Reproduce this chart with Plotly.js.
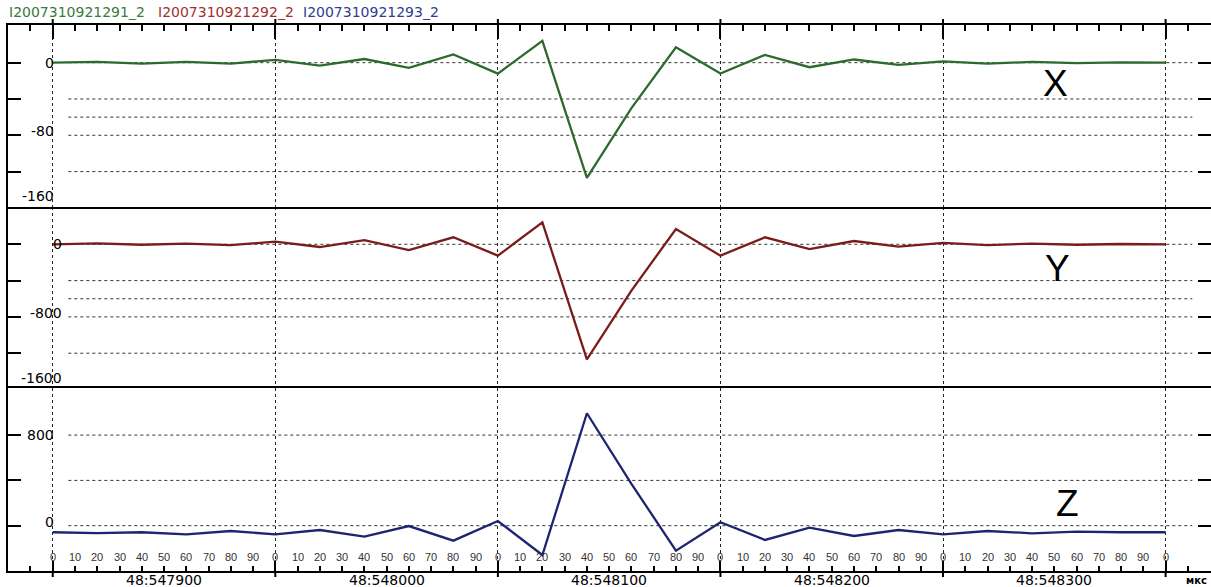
<!DOCTYPE html>
<html><head><meta charset="utf-8">
<script src="https://cdn.plot.ly/plotly-3.0.1.min.js"></script>
<style>html,body{margin:0;padding:0;background:#fff}#chart{width:1211px;height:587px}</style>
</head><body><div id="chart"></div>
<script>
// ---- data ----
const seriesNames = ['I2007310921291_2', 'I2007310921292_2', 'I2007310921293_2'];
const panelLabels = ['X', 'Y', 'Z'];
const timeUs = [547900, 547920, 547940, 547960, 547980, 548000, 548020, 548040, 548060, 548080,
                548100, 548120, 548140, 548160, 548180, 548200, 548220, 548240, 548260, 548280,
                548300, 548320, 548340, 548360, 548380, 548400];
const valuesX = [0, 0.8, -1, 0.8, -1, 3, -3.3, 4, -5.8, 9,
                 -12, 24, -127, -50, 17, -12, 8.5, -5, 3.5, -2.5,
                 1.5, -1, 0.8, -0.5, 0.3, 0];
const valuesY = [0, 10, -5, 8, -10, 30, -30, 45, -63, 77,
                 -125, 242, -1267, -510, 168, -125, 77, -52, 36, -25,
                 15, -10, 8, -5, 3, 0];
const valuesZ = [-58, -65, -58, -76, -47, -76, -38, -97, -3, -132,
                 41, -259, 993, 370, -221, 30, -126, -18, -91, -38,
                 -76, -47, -67, -53, -58, -58];
const majorTicks = [547900, 548000, 548100, 548200, 548300, 548400];
const majorTickLabels = ['48:547900', '48:548000', '48:548100', '48:548200', '48:548300'];
const minorTickLabels = ['0', '10', '20', '30', '40', '50', '60', '70', '80', '90'];
const unitLabel = 'мкс';
const xPanelTicks = [0, -40, -80, -120, -160];
const xPanelTickLabels = ['0', '-80', '-160'];
const xPanelGrid = [0, -40, -60, -80, -120];
const yPanelTicks = [0, -400, -800, -1200, -1600];
const yPanelTickLabels = ['0', '-800', '-1600'];
const yPanelGrid = [0, -400, -600, -800, -1200];
const zPanelTicks = [800, 400, 0];
const zPanelTickLabels = ['800', '0'];
const zPanelGrid = [800, 400, 0];

// ---- styling ----
const lineColors = ['#2d6a2d', '#7b1c1c', '#1e2470'];
const legendColors = ['#3a7a3a', '#a33030', '#2e3d8f'];
const FONT = 'DejaVu Sans, Liberation Sans, Arial, sans-serif';
const W = 1211, H = 587, ML = 8, MR = 0, MT = 25, MB = 16;
const PW = W - ML - MR, PH = H - MT - MB;
const xRange = [547879.9, 548420.4];
const yRanges = {y: [-159, 41.5], y2: [-1583, 411], y3: [-400, 1216]};
const gridX0 = 547907, gridX1 = 548412;
const px2paperX = p => (p - ML) / PW;
const px2paperY = p => (H - MB - p) / PH;

// minor ticks every 10 us across the visible range
const minorTicks = [];
for (let t = 547890; t <= 548410; t += 10) minorTicks.push(t);

const traces = [
  {x: timeUs, y: valuesX, xaxis: 'x2', yaxis: 'y', name: seriesNames[0]},
  {x: timeUs, y: valuesY, xaxis: 'x', yaxis: 'y2', name: seriesNames[1]},
  {x: timeUs, y: valuesZ, xaxis: 'x', yaxis: 'y3', name: seriesNames[2]}
].map((t, i) => Object.assign(t, {type: 'scatter', mode: 'lines',
  line: {color: lineColors[i], width: 2.3}, hoverinfo: 'skip'}));

const shapes = [];
const addGrid = (vals, xref, yref) => vals.forEach(v => shapes.push({
  type: 'line', xref: xref, yref: yref, x0: gridX0, x1: gridX1, y0: v, y1: v,
  line: {color: '#333', width: 1, dash: 'dot'}, layer: 'below'}));
addGrid(xPanelGrid, 'x2', 'y');
addGrid(yPanelGrid, 'x', 'y2');
addGrid(zPanelGrid, 'x', 'y3');
// outward parts of the major ticks (top and bottom axes)
majorTicks.forEach(t => {
  shapes.push({type: 'line', xref: 'x2', yref: 'paper', x0: t, x1: t, y0: 1, y1: 1 + 6 / PH,
    line: {color: '#000', width: 2}});
  shapes.push({type: 'line', xref: 'x', yref: 'paper', x0: t, x1: t, y0: 0, y1: -6 / PH,
    line: {color: '#000', width: 2}});
});

const annotations = [];
// legend texts
const legendPx = [8, 157, 302];
seriesNames.forEach((n, i) => annotations.push({
  text: n, xref: 'paper', yref: 'paper', x: px2paperX(legendPx[i]), y: px2paperY(12),
  xanchor: 'left', yanchor: 'middle', showarrow: false, borderpad: 0,
  font: {family: FONT, size: 14, color: legendColors[i]}}));
// y tick labels (values clamped into the visible range so they are not hidden)
const addYLabels = (labels, yref, xshift, shifts) => labels.forEach((l, i) => {
  const v = parseFloat(l), lo = yRanges[yref][0];
  annotations.push({
    text: l, xref: 'x', yref: yref, x: majorTicks[0], y: Math.max(v, lo), xanchor: 'right',
    yanchor: v < lo ? 'bottom' : 'middle', xshift: xshift, yshift: shifts[i], showarrow: false,
    borderpad: 0, font: {family: FONT, size: 14, color: '#000'}});
});
addYLabels(xPanelTickLabels, 'y', 2, [0, 4, 2]);
addYLabels(yPanelTickLabels, 'y2', 10, [0, 4, 1]);
addYLabels(zPanelTickLabels, 'y3', 2, [0, 4]);
// minor (within-segment) labels
majorTicks.forEach((s, k) => {
  const labs = k < majorTicks.length - 1 ? minorTickLabels : [minorTickLabels[0]];
  labs.forEach(l => annotations.push({
    text: l, xref: 'x', yref: 'paper', x: s + parseFloat(l), y: px2paperY(557),
    xanchor: 'center', yanchor: 'middle', showarrow: false, borderpad: 0,
    font: {family: 'Liberation Sans, Arial, sans-serif', size: 11, color: '#333'}}));
});
// major segment labels, centred under each 100-us segment
majorTickLabels.forEach((l, k) => annotations.push({
  text: l, xref: 'x', yref: 'paper', x: (majorTicks[k] + majorTicks[k + 1]) / 2, y: px2paperY(580),
  xanchor: 'center', yanchor: 'middle', showarrow: false, borderpad: 0,
  font: {family: FONT, size: 14, color: '#000'}}));
annotations.push({text: '<b>' + unitLabel + '</b>', xref: 'paper', yref: 'paper',
  x: px2paperX(1196), y: px2paperY(580), xanchor: 'center', yanchor: 'middle',
  showarrow: false, borderpad: 0, font: {family: FONT, size: 10, color: '#000'}});
// panel letters
const letterPos = [[1055, 84], [1057, 268], [1067, 503]];
panelLabels.forEach((l, i) => annotations.push({
  text: l, xref: 'paper', yref: 'paper', x: px2paperX(letterPos[i][0]), y: px2paperY(letterPos[i][1]),
  xanchor: 'center', yanchor: 'middle', showarrow: false, borderpad: 0,
  font: {family: 'Liberation Sans, Arial, sans-serif', size: 37, color: '#000'}}));

const xCommon = {
  domain: [0, 1], range: xRange, showline: true, linewidth: 2, linecolor: '#000', mirror: true,
  tickmode: 'array', tickvals: majorTicks, ticks: 'inside', tickwidth: 2, tickcolor: '#000',
  showticklabels: false, showgrid: true, gridcolor: '#222', griddash: 'dot', gridwidth: 1,
  zeroline: false, fixedrange: true
};
const yCommon = {
  showline: true, linewidth: 2, linecolor: '#000', mirror: 'ticks', ticks: 'inside',
  ticklen: 13, tickwidth: 2, tickcolor: '#000', tickmode: 'array', showticklabels: false,
  showgrid: false, zeroline: false, fixedrange: true
};
const layout = {
  width: W, height: H, margin: {l: ML, r: MR, t: MT, b: MB, pad: 0},
  paper_bgcolor: '#fff', plot_bgcolor: '#fff', showlegend: false, hovermode: false,
  xaxis: Object.assign({}, xCommon, {anchor: 'y3', side: 'bottom', ticklen: 10,
    minor: {tickmode: 'array', tickvals: minorTicks, ticks: 'inside', ticklen: 5, tickwidth: 2,
            tickcolor: '#000', showgrid: false}}),
  xaxis2: Object.assign({}, xCommon, {anchor: 'y', side: 'top', ticklen: 14,
    minor: {tickmode: 'array', tickvals: minorTicks, ticks: 'inside', ticklen: 6, tickwidth: 2,
            tickcolor: '#000', showgrid: false}}),
  yaxis: Object.assign({}, yCommon, {domain: [0.6667, 1], range: yRanges.y, anchor: 'x2',
    tickvals: xPanelTicks}),
  yaxis2: Object.assign({}, yCommon, {domain: [0.3352, 0.6667], range: yRanges.y2, anchor: 'x',
    tickvals: yPanelTicks}),
  yaxis3: Object.assign({}, yCommon, {domain: [0, 0.3352], range: yRanges.y3, anchor: 'x',
    tickvals: zPanelTicks}),
  shapes: shapes, annotations: annotations,
  font: {family: FONT, size: 14, color: '#000'}
};
Plotly.newPlot('chart', traces, layout, {staticPlot: true, displayModeBar: false});
</script></body></html>
